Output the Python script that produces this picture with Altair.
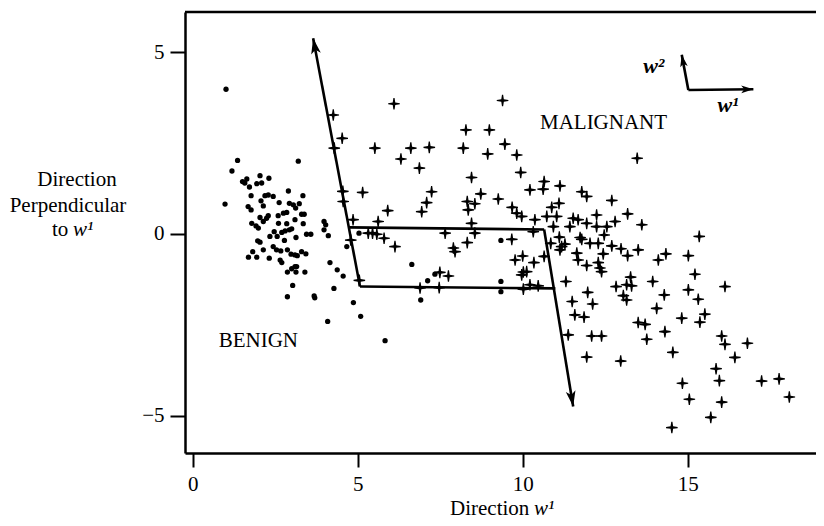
import math
import altair as alt
import pandas as pd

# ---------------- data ----------------
benign_x = [1.01, 1.36, 1.19, 3.20, 1.64, 2.04, 2.31, 1.51, 1.58, 1.94, 2.09, 1.72, 2.90, 1.77,
            2.19, 2.29, 2.44, 3.34, 0.98, 2.07, 2.14, 2.62, 2.93, 3.05, 3.23, 1.68, 1.77, 3.12,
            2.29, 2.59, 2.75, 2.85, 3.30, 3.38, 2.04, 2.14, 2.24, 1.79, 1.92, 1.99, 2.60, 2.85,
            3.10, 3.35, 2.47, 2.56, 2.70, 2.80, 2.93, 3.00, 3.13, 3.45, 3.58, 2.34, 3.98, 4.03,
            4.11, 3.98, 1.97, 2.04, 2.78, 1.82, 2.14, 2.44, 2.54, 2.67, 2.87, 2.98, 3.10, 3.17,
            3.30, 3.43, 1.69, 1.94, 2.32, 2.65, 2.70, 3.10, 3.15, 3.00, 2.87, 3.13, 3.40, 3.03,
            2.87, 3.68, 3.70, 4.16, 4.38, 4.56, 4.28, 4.67, 4.87, 5.09, 4.09, 5.83, 5.04, 6.64,
            9.34, 7.34, 7.12, 6.91, 9.34, 9.34]
benign_y = [3.98, 2.02, 1.73, 2.00, 1.51, 1.60, 1.53, 1.44, 1.40, 1.38, 1.40, 1.29, 1.18, 1.05,
            1.05, 1.07, 1.03, 1.05, 0.82, 0.91, 0.77, 0.86, 0.84, 0.80, 0.83, 0.75, 0.66, 0.71,
            0.50, 0.50, 0.57, 0.59, 0.54, 0.54, 0.45, 0.34, 0.43, 0.29, 0.22, 0.16, 0.29, 0.28,
            0.39, 0.28, 0.06, -0.07, 0.04, 0.08, 0.11, 0.14, -0.10, -0.01, -0.01, -0.07, 0.34, 0.25,
            -0.05, 0.11, -0.19, -0.23, -0.18, -0.49, -0.44, -0.35, -0.44, -0.47, -0.44, -0.56, -0.58, -0.60,
            -0.49, -0.55, -0.64, -0.64, -0.67, -0.72, -0.79, -0.90, -0.90, -0.96, -1.05, -1.05, -1.05, -1.42,
            -1.73, -1.71, -1.76, -0.79, -0.99, -1.16, -1.50, -0.35, -1.89, -2.27, -2.41, -2.94, 0.02, -0.84,
            -0.18, -1.11, -1.29, -1.82, -1.31, -1.59]

malig_x = [4.26, 4.53, 4.29, 5.52, 6.10, 6.31,
           4.55, 5.15, 4.56, 4.86, 5.91, 5.62, 5.32, 5.45, 5.58, 5.80, 6.13, 4.79, 5.05,
           9.39, 8.28, 8.99, 6.61, 7.17, 8.20, 9.46, 8.94, 9.82, 6.87, 9.94, 8.45, 7.24, 10.22,
           10.65, 10.62, 11.13, 8.73, 11.79, 11.94, 7.09, 6.94, 8.32, 8.55, 8.35, 9.26, 9.68,
           9.82, 9.97, 10.88, 11.10, 10.73, 11.03, 10.37, 11.53, 11.68, 11.94, 12.24, 11.43,
           12.24, 8.45, 7.65, 8.55, 8.32, 7.90, 7.95, 9.67, 10.32, 10.85, 10.93, 11.11, 11.18,
           11.28, 11.13, 11.74, 11.79, 12.04, 12.29, 11.64, 11.68, 11.94, 12.29, 9.77, 10.00,
           10.34, 10.65, 10.02, 9.97, 10.12, 7.49, 7.75,
           12.70, 12.80, 12.55, 12.47, 12.70, 12.44, 12.34, 12.39, 10.22, 10.47, 11.31, 11.97,
           12.83, 11.50, 12.12, 11.58, 11.86, 10.02, 6.89, 7.47, 11.38, 12.09, 12.39, 11.94,
           13.47, 13.18, 13.61, 12.98, 13.18, 13.50, 14.11, 14.34, 15.02, 15.35, 13.27, 13.15,
           13.30, 13.94, 15.22, 16.13, 13.05, 13.15, 14.29, 15.02, 15.32, 14.06, 14.82, 15.52,
           15.37, 13.50, 13.71, 14.31, 13.76, 16.03, 16.13, 16.81, 14.55, 16.43, 12.97, 15.86,
           15.96, 14.84, 17.24, 17.77, 18.08, 15.05, 16.03, 15.70, 14.52]
malig_y = [3.27, 2.63, 2.36, 2.36, 3.58, 2.06,
           1.17, 1.14, 0.89, 0.39, 0.64, 0.34, 0.02, 0.02, -0.01, -0.12, -0.35, -0.17, -1.28,
           3.67, 2.86, 2.86, 2.36, 2.38, 2.36, 2.47, 2.20, 2.17, 1.81, 1.69, 1.55, 1.16, 1.21,
           1.44, 1.23, 1.32, 1.10, 1.16, 1.03, 0.86, 0.61, 0.89, 0.83, 0.66, 0.96, 0.73,
           0.57, 0.48, 0.73, 0.84, 0.48, 0.48, 0.39, 0.43, 0.39, 0.29, 0.52, 0.20,
           0.20, 0.29, 0.02, 0.02, -0.24, -0.39, -0.49, -0.15, 0.06, -0.26, 0.20, -0.09, -0.35,
           -0.28, -0.44, -0.10, -0.15, -0.26, -0.26, -0.53, -0.72, -0.87, -0.79, -0.72, -0.61,
           -0.79, -0.62, -1.05, -1.13, -1.04, -1.06, -1.16,
           0.92, 0.34, 0.20, -0.03, -0.33, -0.55, -0.94, -1.04, -1.40, -1.43, -1.31, -1.61,
           -1.45, -1.86, -1.93, -2.23, -2.29, -1.52, -1.49, -1.48, -2.78, -2.81, -2.81, -3.39,
           2.08, 0.55, 0.25, -0.41, -0.60, -0.44, -0.72, -0.55, -0.60, -0.07, -1.19, -1.40,
           -1.43, -1.31, -1.11, -1.45, -1.70, -1.82, -1.68, -1.54, -1.80, -2.05, -2.32, -2.21,
           -2.43, -2.44, -2.49, -2.69, -2.90, -2.81, -3.04, -3.01, -3.26, -3.40, -3.50, -3.71,
           -4.04, -4.11, -4.05, -3.99, -4.49, -4.55, -4.63, -5.05, -5.33]

# line segments of the drawn direction arrows (start -> end)
seg_x1 = [5.07, 4.73, 5.07, 10.65, 15.02, 15.02]
seg_y1 = [-1.45, 0.18, -1.45, 0.12, 3.96, 3.96]
seg_x2 = [3.65, 10.65, 10.99, 11.53, 14.82, 16.99]
seg_y2 = [5.38, 0.12, -1.50, -4.75, 4.93, 3.98]
head_of_seg = [0, 3, 4, 5]          # segments ending with an arrowhead
head_big = [True, True, False, False]

x_ticks = [0, 5, 10, 15]
y_ticks = [-5, 0, 5]

# ---------------- layout ----------------
PX_X = 33.0      # pixels per x unit
PX_Y = 36.34     # pixels per y unit
W, H = 631, 441
x_dom = [-0.233, -0.233 + W / PX_X]
y_dom = [-6.03, -6.03 + H / PX_Y]

FONT = "Liberation Serif"
FS = 21

xs = alt.Scale(domain=x_dom, nice=False, zero=False)
ys = alt.Scale(domain=y_dom, nice=False, zero=False)
x_axis = alt.Axis(values=x_ticks, title=None, grid=False, tickSize=14, labelPadding=6,
                  domainWidth=2.5, tickWidth=2, domainColor="black", tickColor="black",
                  labelFont=FONT, labelFontSize=FS, labelColor="black", format="d")
y_axis = alt.Axis(values=y_ticks, title=None, grid=False, tickSize=15, labelPadding=6,
                  domainWidth=2.5, tickWidth=2, domainColor="black", tickColor="black",
                  labelFont=FONT, labelFontSize=FS, labelColor="black", format="d")

def X(f):
    return alt.X(f, type="quantitative", scale=xs, axis=x_axis)

def Y(f):
    return alt.Y(f, type="quantitative", scale=ys, axis=y_axis)

benign = pd.DataFrame({"x": benign_x, "y": benign_y})
malig = pd.DataFrame({"x": malig_x, "y": malig_y})
segs = pd.DataFrame({"x": seg_x1, "y": seg_y1, "x2": seg_x2, "y2": seg_y2})

heads = []
for i, big in zip(head_of_seg, head_big):
    dxp = (seg_x2[i] - seg_x1[i]) * PX_X
    dyp = (seg_y2[i] - seg_y1[i]) * PX_Y
    ang = math.degrees(math.atan2(dxp, dyp)) % 360
    heads.append({"x": seg_x2[i], "y": seg_y2[i], "angle": ang, "big": big})
heads = pd.DataFrame(heads)

cross_path = ("M-0.1,-1L0.1,-1L0.22,-0.22L1,-0.1L1,0.1L0.22,0.22L0.1,1L-0.1,1"
              "L-0.22,0.22L-1,0.1L-1,-0.1L-0.22,-0.22Z")
arrow_path = "M0,0L0.5,1.6L0,1.2L-0.5,1.6Z"

dots = alt.Chart(benign).mark_point(shape="circle", filled=True, color="black",
                                    opacity=1, size=28).encode(x=X("x"), y=Y("y"))
plus = alt.Chart(malig).mark_point(shape=cross_path, filled=True, color="black",
                                   opacity=1, size=135, strokeWidth=0).encode(x=X("x"), y=Y("y"))
lines = alt.Chart(segs).mark_rule(color="black", strokeWidth=2.6).encode(
    x=X("x"), y=Y("y"), x2="x2", y2="y2")
big_heads = alt.Chart(heads[heads["big"]]).mark_point(
    shape=arrow_path, filled=True, color="black", opacity=1, size=380, strokeWidth=0
).encode(x=X("x"), y=Y("y"), angle=alt.Angle("angle:Q", scale=None))
small_heads = alt.Chart(heads[~heads["big"]]).mark_point(
    shape=arrow_path, filled=True, color="black", opacity=1, size=230, strokeWidth=0
).encode(x=X("x"), y=Y("y"), angle=alt.Angle("angle:Q", scale=None))

top_line = alt.Chart(pd.DataFrame({"a": [0]})).mark_rule(color="black", strokeWidth=2.5).encode(
    x=alt.value(0), x2=alt.value(W + 20), y=alt.value(0))

labels = pd.DataFrame({
    "x": [1.99, 12.45],
    "y": [-2.94, 3.05],
    "t": ["BENIGN", "MALIGNANT"],
})
region_text = alt.Chart(labels).mark_text(font=FONT, fontSize=FS, color="black",
                                          align="center", baseline="middle").encode(
    x=X("x"), y=Y("y"), text="t:N")

# w2 / w1 legend labels (data coords)
wlab = pd.DataFrame({"x": [13.65, 15.90], "y": [4.42, 3.35], "t": ["w²", "w¹"]})
w_text = alt.Chart(wlab).mark_text(font=FONT, fontSize=FS + 1, fontStyle="italic",
                                   fontWeight="bold", color="black", align="left",
                                   baseline="alphabetic").encode(x=X("x"), y=Y("y"), text="t:N")

def ptext(txt, px, py, align="left", italic=False):
    return alt.Chart(pd.DataFrame({"t": [txt]})).mark_text(
        font=FONT, fontSize=FS, color="black", align=align, baseline="alphabetic",
        fontStyle="italic" if italic else "normal").encode(
        x=alt.value(px), y=alt.value(py), text="t:N")

titles = [
    ptext("Direction", -108, 174, "center"),
    ptext("Perpendicular", -117, 200, "center"),
    ptext("to", -133, 224),
    ptext("w¹", -112, 224, italic=True),
    ptext("Direction", 265, 503),
    ptext("w¹", 349, 503, italic=True),
]

chart = alt.layer(lines, dots, plus, big_heads, small_heads, top_line, region_text, w_text,
                  *titles).properties(
    width=W, height=H,
    autosize=alt.AutoSizeParams(type="none"),
    padding={"left": 177, "top": 4, "right": 0, "bottom": 70},
).configure_view(strokeWidth=0).configure(background="white")

chart.save("out.html", embed_options={"renderer": "svg", "actions": False})
